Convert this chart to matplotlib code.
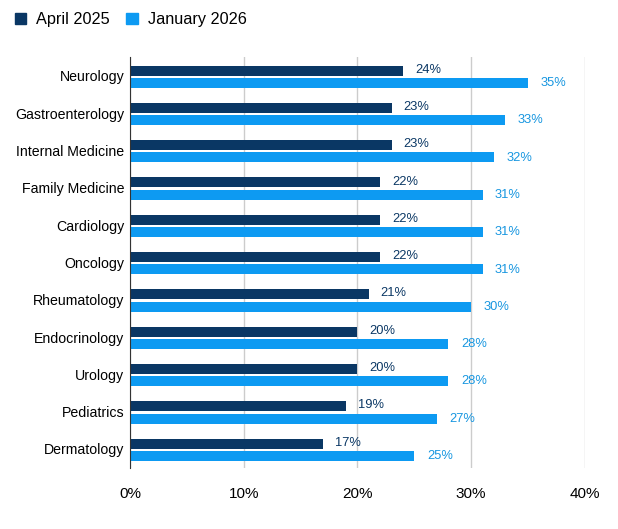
import matplotlib.pyplot as plt
import numpy as np
from matplotlib.patches import Patch
from matplotlib.ticker import FuncFormatter

plt.rcParams['font.family'] = ['Liberation Sans', 'DejaVu Sans']

specialties = ['Neurology', 'Gastroenterology', 'Internal Medicine', 'Family Medicine',
               'Cardiology', 'Oncology', 'Rheumatology', 'Endocrinology', 'Urology',
               'Pediatrics', 'Dermatology']
april_2025 = [24, 23, 23, 22, 22, 22, 21, 20, 20, 19, 17]
january_2026 = [35, 33, 32, 31, 31, 31, 30, 28, 28, 27, 25]

dark = '#0a3764'
light = '#0d9af2'

fig = plt.figure(figsize=(6.18, 5.29), dpi=100)
ax = fig.add_axes([0.2104, 0.116, 0.736, 0.7756])

y = np.arange(len(specialties))
h = 0.268
ax.barh(y - 0.145, april_2025, height=h, color=dark, zorder=3)
ax.barh(y + 0.185, january_2026, height=h, color=light, zorder=3)

for i, (a, b) in enumerate(zip(april_2025, january_2026)):
    ax.text(a + 1.05, i - 0.17, f'{a}%', va='center', ha='left',
            fontsize=9.3, color=dark)
    ax.text(b + 1.1, i + 0.19, f'{b}%', va='center', ha='left',
            fontsize=9.3, color='#1796e0')

ax.set_xlim(0, 40)
ax.set_ylim(len(specialties) - 0.5, -0.5)
ax.set_yticks(y)
ax.set_yticklabels(specialties, fontsize=10.2)
ax.set_xticks([0, 10, 20, 30, 40])
ax.xaxis.set_major_formatter(FuncFormatter(lambda v, p: f'{int(v)}%'))
ax.tick_params(axis='x', labelsize=11, length=0, pad=14)
ax.tick_params(axis='y', length=0, pad=4)
ax.grid(axis='x', color='#cccccc', linewidth=1, zorder=0)
for s in ['top', 'right', 'bottom']:
    ax.spines[s].set_visible(False)
ax.spines['left'].set_color('#333333')
ax.spines['left'].set_zorder(4)

handles = [Patch(color=dark, label='April 2025'), Patch(color=light, label='January 2026')]
fig.legend(handles=handles, loc='upper left', bbox_to_anchor=(0.0, 1.005), ncol=2,
           frameon=False, fontsize=11.7, handlelength=0.7, handleheight=0.7,
           handletextpad=0.6, columnspacing=1.05)

fig.savefig('out.png', dpi=100)
